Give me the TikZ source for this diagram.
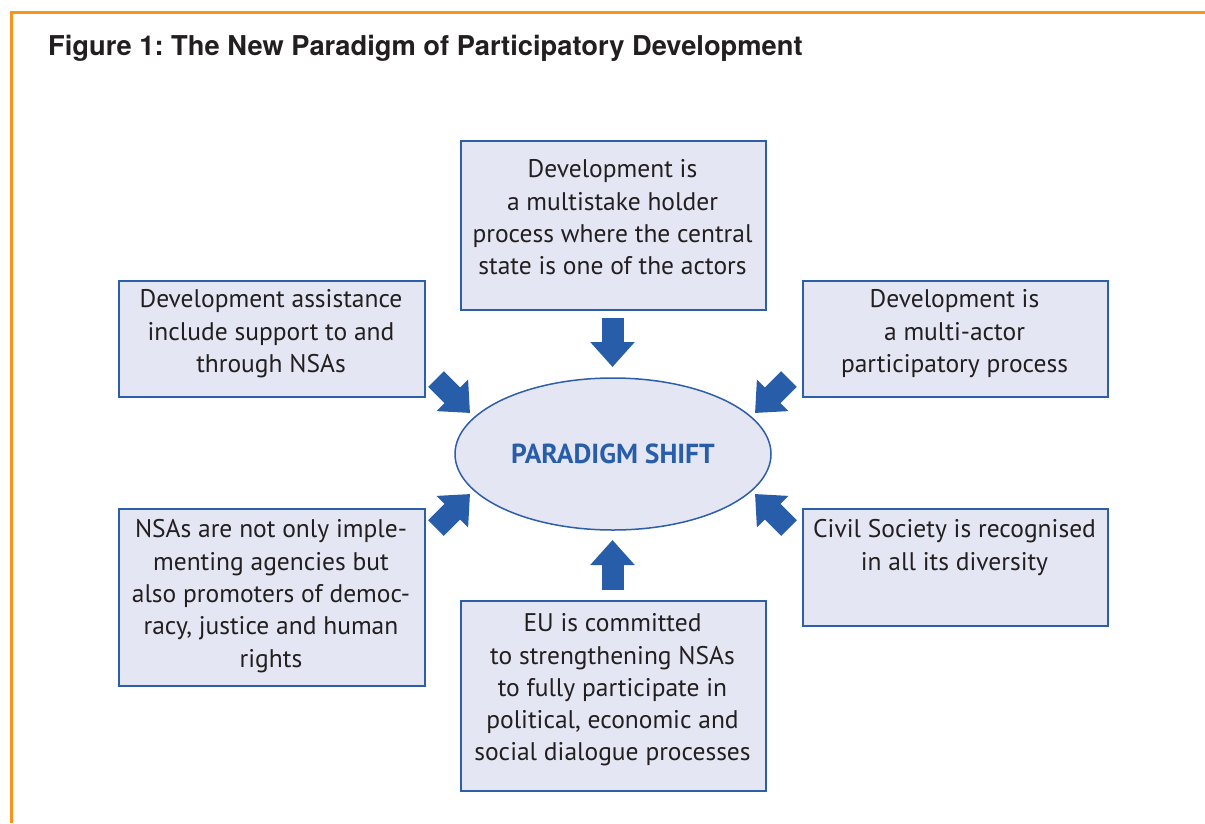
\documentclass[tikz,border=0pt]{standalone}
\usepackage{fontspec}
\setmainfont{PT Sans}
\newfontfamily\titlefont{TeX Gyre Heros}
\usetikzlibrary{shapes.geometric,arrows.meta}
\frenchspacing
\definecolor{boxblue}{HTML}{2D5EAA}
\definecolor{boxfill}{HTML}{E4E6F3}
\definecolor{arrblue}{HTML}{285DA9}
\definecolor{txtgray}{HTML}{231F20}
\definecolor{frameorange}{HTML}{F7941D}
\tikzset{
  box/.style={draw=boxblue, line width=2pt, fill=boxfill, rectangle, inner sep=0pt, anchor=north west},
  boxtext/.style={align=center, anchor=north, inner sep=0pt, text=txtgray, font=\frenchspacing\fontsize{25.5}{32.3}\selectfont},
  blockarrow/.style={draw=arrblue, line width=22pt, line cap=butt, -{Triangle[length=25pt, width=43pt, fill=arrblue]}},
}
\begin{document}
\begin{tikzpicture}[x=1pt, y=-1pt]
\useasboundingbox (0,0) rectangle (1205,823);
\fill[white] (0,0) rectangle (1205,823);
% frame
\draw[frameorange, line width=3pt] (11,823) -- (11,12) -- (1205,12);
\node[anchor=base west, inner sep=0pt, text=txtgray, font=\frenchspacing\titlefont\bfseries\fontsize{27.3}{30}\selectfont] (title) at (48,55) {Figure 1: The New Paradigm of Participatory Development};

% boxes
\node[box, minimum width=305pt, minimum height=169pt] (btop) at (460,140) {};
\node[box, minimum width=306pt, minimum height=116pt] (blt) at (118,280) {};
\node[box, minimum width=305pt, minimum height=116pt] (brt) at (802,280) {};
\node[box, minimum width=306pt, minimum height=177pt] (blb) at (118,508) {};
\node[box, minimum width=305pt, minimum height=117pt] (brb) at (802,508) {};
\node[box, minimum width=305pt, minimum height=190pt] (bbot) at (460,600) {};

% texts
\node[boxtext] (ttop) at (612.5,159.5) {Development is\\a multistake holder\\process where the central\\state is one of the actors};
\node[boxtext] (tlt) at (271,289.5) {Development assistance\\include support to and\\through NSAs};
\node[boxtext] (trt) at (954.5,289.5) {Development is\\a multi-actor\\participatory process};
\node[boxtext] (tlb) at (271,519.5) {NSAs are not only imple-\\menting agencies but\\also promoters of democ-\\racy, justice and human\\rights};
\node[boxtext] (trb) at (954.5,519.5) {Civil Society is recognised\\in all its diversity};
\node[boxtext] (tbot) at (612.5,613.5) {EU is committed\\to strengthening NSAs\\to fully participate in\\political, economic and\\social dialogue processes};

% centre
\node[ellipse, draw=boxblue, line width=1.5pt, fill=boxfill, minimum width=316pt, minimum height=152pt, inner sep=0pt,
      text=arrblue, font=\bfseries\fontsize{27.5}{30}\selectfont] (c) at (613,454) {PARADIGM SHIFT};

% arrows
\coordinate (a1s) at (612.5,318); \coordinate (a1e) at (612.5,367);
\coordinate (a2s) at (612.5,590); \coordinate (a2e) at (612.5,540);
\coordinate (a3s) at (436,379);   \coordinate (a3e) at (470,413);
\coordinate (a4s) at (789,379);   \coordinate (a4e) at (755,413);
\coordinate (a5s) at (436,528);   \coordinate (a5e) at (470,494);
\coordinate (a6s) at (789,528);   \coordinate (a6e) at (755,494);
\foreach \i in {1,...,6} {\draw[blockarrow] (a\i s) -- (a\i e);}
\end{tikzpicture}
\end{document}
